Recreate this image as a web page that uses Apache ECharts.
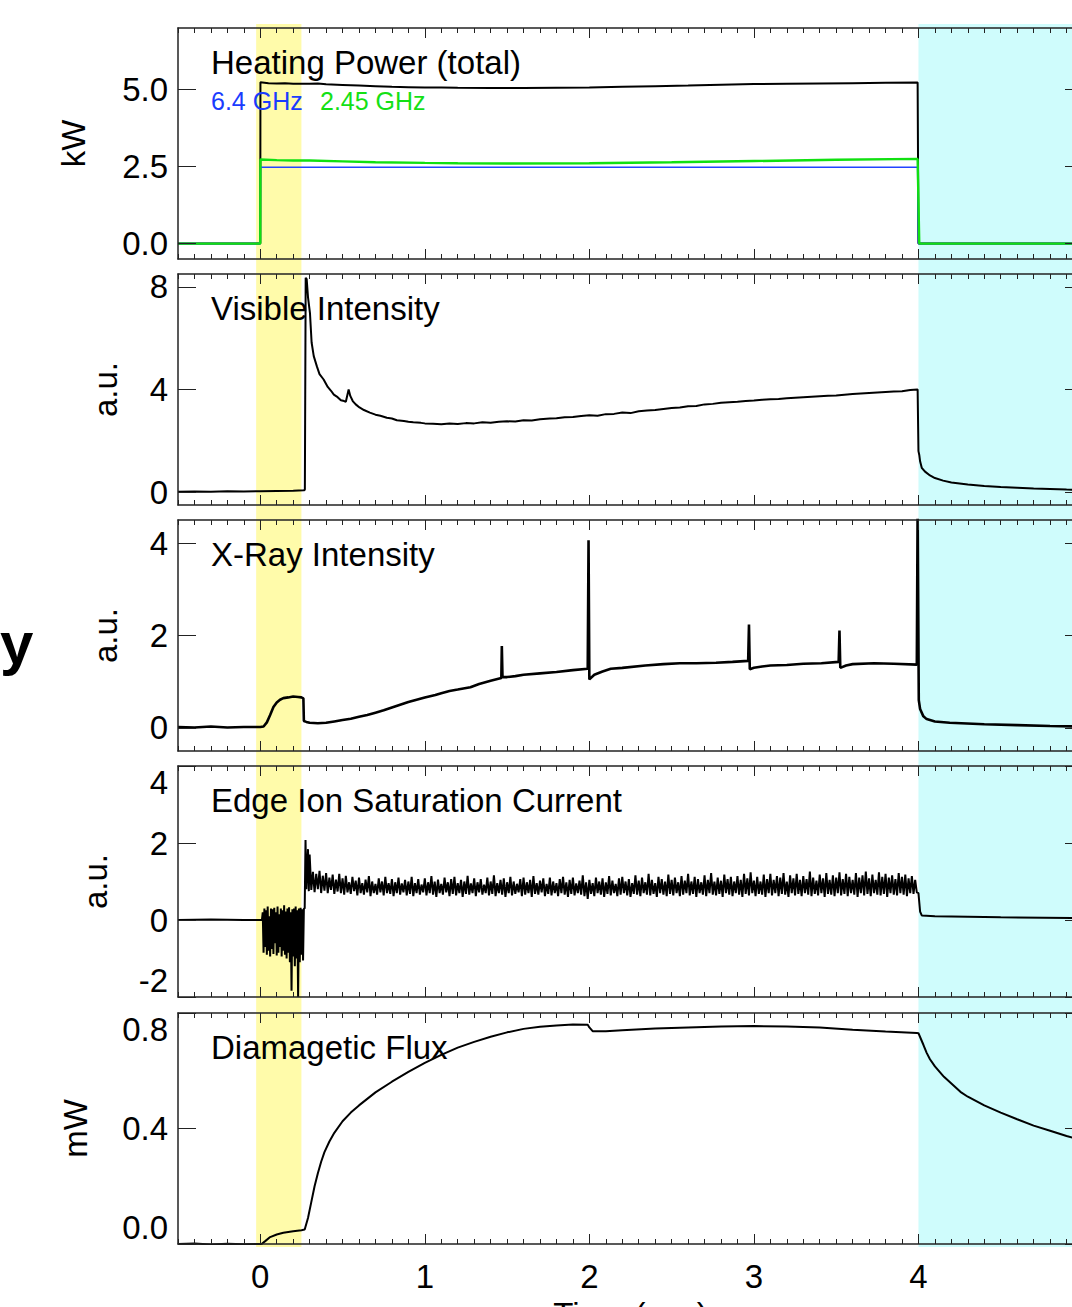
<!DOCTYPE html>
<html>
<head>
<meta charset="utf-8">
<script src="https://cdn.jsdelivr.net/npm/echarts@6/dist/echarts.min.js"></script>
<style>
html,body{margin:0;padding:0;background:#fff;overflow:hidden}
#c{width:1072px;height:1307px}
</style>
</head>
<body>
<div id="c"></div>
<script>
// ---------------- DATA ----------------
const panelTitles = ['Heating Power (total)', 'Visible Intensity', 'X-Ray Intensity', 'Edge Ion Saturation Current', 'Diamagetic Flux'];
const yNames = ['kW', 'a.u.', 'a.u.', 'a.u.', 'mW'];
const yMin = [-0.5, -0.5, -0.5, -2, 0];
const yMax = [7, 8.5, 4.5, 4, 0.8];
const yTicks = [[0, 2.5, 5], [0, 4, 8], [0, 2, 4], [-2, 0, 2, 4], [0, 0.4, 0.8]];
const yDecimals = [1, 0, 0, 0, 1];
const xMin = -0.5, xMax = 5;
const xTickLabels = [0, 1, 2, 3, 4];
const xMajorTicks = [0, 1, 2, 3, 4, 5];
const xName = 'Time (sec)';
const legend64 = '6.4 GHz';
const legend245 = '2.45 GHz';
const sideLetter = 'y';
const heatBand = [-0.025, 0.25];
const afterBand = [4.0, 5.0];

// Panel 1: heating power (kW)
const powerTotal = [[-0.5,0],[0,0],[0.001,5.24],[0.05,5.21],[0.1,5.2],[0.15,5.21],[0.2,5.19],[0.3,5.19],[0.35,5.2],[0.4,5.17],[0.5,5.15],[0.6,5.13],[0.7,5.11],[0.8,5.09],[0.9,5.08],[1.0,5.07],[1.1,5.07],[1.2,5.06],[1.4,5.05],[1.6,5.05],[1.8,5.06],[2.0,5.07],[2.2,5.09],[2.4,5.11],[2.6,5.13],[2.8,5.16],[3.0,5.18],[3.2,5.19],[3.4,5.2],[3.6,5.21],[3.8,5.22],[3.995,5.23],[4.0,0],[5.0,0]];
const power64 = [[-0.5,0],[0,0],[0.001,2.48],[2.0,2.48],[3.995,2.48],[4.0,0],[5.0,0]];
const power245 = [[-0.5,0],[0,0],[0.001,2.73],[0.1,2.71],[0.2,2.7],[0.3,2.7],[0.5,2.67],[0.7,2.64],[1.0,2.62],[1.2,2.61],[1.5,2.6],[2.0,2.61],[2.5,2.64],[3.0,2.68],[3.5,2.72],[3.995,2.75],[4.005,0],[5.0,0]];

// Panel 2: visible intensity (a.u.)
const visible = [[-0.5,0.02],[-0.4,0.03],[-0.3,0.02],[-0.2,0.04],[-0.1,0.03],[0,0.04],[0.1,0.05],[0.2,0.06],[0.265,0.07],[0.271,0.1],[0.276,8.35],[0.282,8.3],[0.29,7.6],[0.302,6.98],[0.312,5.83],[0.325,5.3],[0.344,4.9],[0.36,4.6],[0.385,4.39],[0.41,4.1],[0.43,3.95],[0.447,3.8],[0.47,3.7],[0.49,3.58],[0.51,3.55],[0.52,3.52],[0.537,4.0],[0.547,3.75],[0.562,3.55],[0.58,3.42],[0.603,3.3],[0.63,3.2],[0.666,3.1],[0.7,3.02],[0.73,2.98],[0.769,2.9],[0.8,2.87],[0.83,2.8],[0.873,2.77],[0.9,2.74],[0.93,2.72],[0.976,2.7],[1.0,2.68],[1.05,2.67],[1.1,2.65],[1.15,2.68],[1.2,2.66],[1.25,2.69],[1.3,2.68],[1.35,2.72],[1.4,2.7],[1.45,2.74],[1.5,2.76],[1.55,2.75],[1.6,2.8],[1.65,2.79],[1.7,2.84],[1.76,2.87],[1.8,2.88],[1.85,2.92],[1.9,2.93],[1.95,2.97],[2.0,3.0],[2.05,2.98],[2.1,3.04],[2.15,3.05],[2.2,3.1],[2.25,3.08],[2.3,3.15],[2.35,3.18],[2.4,3.2],[2.45,3.24],[2.5,3.28],[2.55,3.3],[2.6,3.35],[2.65,3.36],[2.7,3.42],[2.75,3.44],[2.8,3.48],[2.85,3.5],[2.9,3.52],[2.95,3.55],[3.0,3.57],[3.05,3.6],[3.1,3.62],[3.15,3.63],[3.2,3.66],[3.25,3.68],[3.3,3.7],[3.35,3.72],[3.4,3.74],[3.45,3.76],[3.5,3.77],[3.55,3.8],[3.6,3.82],[3.65,3.84],[3.7,3.86],[3.75,3.88],[3.8,3.9],[3.85,3.92],[3.9,3.93],[3.95,3.98],[3.995,4.0],[4.0,1.6],[4.005,1.45],[4.01,1.2],[4.02,0.95],[4.04,0.8],[4.07,0.65],[4.1,0.55],[4.15,0.45],[4.2,0.38],[4.3,0.3],[4.4,0.24],[4.5,0.2],[4.6,0.17],[4.7,0.14],[4.8,0.12],[4.9,0.1],[5.0,0.09]];

// Panel 3: X-ray intensity (a.u.)
const xray = [[-0.5,0.02],[-0.4,0.01],[-0.3,0.03],[-0.2,0.01],[-0.1,0.02],[0.0,0.02],[0.02,0.03],[0.04,0.12],[0.06,0.28],[0.08,0.45],[0.1,0.55],[0.12,0.61],[0.14,0.645],[0.17,0.66],[0.2,0.68],[0.23,0.67],[0.25,0.66],[0.262,0.64],[0.265,0.15],[0.28,0.13],[0.3,0.11],[0.35,0.1],[0.4,0.11],[0.45,0.14],[0.5,0.17],[0.55,0.2],[0.6,0.24],[0.65,0.28],[0.7,0.33],[0.75,0.38],[0.8,0.44],[0.85,0.5],[0.9,0.56],[0.95,0.61],[1.0,0.66],[1.064,0.71],[1.1,0.75],[1.15,0.8],[1.2,0.83],[1.277,0.88],[1.33,0.95],[1.4,1.02],[1.465,1.08],[1.468,1.77],[1.472,1.1],[1.5,1.1],[1.55,1.12],[1.6,1.15],[1.7,1.18],[1.8,1.21],[1.9,1.25],[1.99,1.28],[1.995,4.06],[2.0,1.05],[2.03,1.15],[2.08,1.22],[2.13,1.28],[2.2,1.3],[2.34,1.35],[2.45,1.38],[2.55,1.4],[2.65,1.4],[2.77,1.41],[2.87,1.43],[2.965,1.45],[2.97,2.24],[2.975,1.27],[3.0,1.3],[3.05,1.33],[3.1,1.35],[3.2,1.36],[3.3,1.39],[3.41,1.4],[3.515,1.43],[3.52,2.11],[3.525,1.3],[3.56,1.35],[3.6,1.38],[3.73,1.4],[3.85,1.39],[3.99,1.37],[3.995,4.8],[4.002,0.6],[4.01,0.41],[4.03,0.25],[4.05,0.19],[4.1,0.14],[4.19,0.11],[4.4,0.08],[4.6,0.06],[4.8,0.04],[5.0,0.03]];

// Panel 4: edge ion saturation current (a.u.)
const edgeLead = [[-0.5,0],[-0.3,0.01],[-0.1,0],[0.0,0.0],[0.01,0.0]];
const edgeNoiseStart = 0.015, edgeNoiseStep = 0.005;
const edgeNoise = [0.2,-0.85,0.3,-0.7,0.25,-0.9,0.35,-0.8,0.1,-0.95,0.3,-0.75,0.28,-0.88,0.32,-0.6,0.2,-0.92,0.35,-0.85,0.15,-0.7,0.3,-0.95,0.25,-0.8,0.38,-0.9,0.22,-1.0,0.3,-0.85,0.33,-1.1,0.2,-1.84,0.28,-0.95,0.3,-1.2,0.35,-1.0,0.25,-2.0,0.3,-1.1,0.32,-0.9,0.28,-1.05,0.3];
const edgeJump = [[0.27,0.3],[0.275,2.08],[0.28,0.8],[0.29,1.84],[0.295,0.75]];
const edgeBandStart = 0.30, edgeBandStep = 0.01;
const edgeBand = [
1.7,0.78,1.25,0.72,1.2,0.8,1.28,0.7,1.15,0.76,
1.22,0.7,1.1,0.78,1.18,0.68,1.05,0.74,1.2,0.7,
1.08,0.66,1.15,0.72,0.98,0.68,1.12,0.75,1.02,0.64,
1.1,0.7,0.96,0.66,1.05,0.72,1.14,0.62,1.0,0.7,
0.94,0.66,1.08,0.72,1.0,0.64,1.12,0.7,0.96,0.68,
1.06,0.62,0.98,0.7,1.1,0.66,0.95,0.72,1.04,0.64,
1.0,0.68,1.12,0.62,0.96,0.7,1.06,0.66,0.92,0.72,
1.08,0.64,0.98,0.7,1.14,0.66,1.0,0.6,1.05,0.7,
0.94,0.66,1.1,0.72,0.98,0.62,1.06,0.68,1.12,0.64,
0.96,0.7,1.04,0.6,1.0,0.68,1.15,0.66,0.95,0.7,
1.08,0.62,0.98,0.72,1.06,0.66,0.92,0.7,1.1,0.64,
1.0,0.68,1.16,0.62,0.96,0.7,1.04,0.66,1.08,0.6,
0.98,0.7,1.12,0.64,1.0,0.68,0.94,0.72,1.06,0.62,
1.1,0.66,0.98,0.7,1.04,0.6,1.14,0.68,0.96,0.66,
1.02,0.72,1.08,0.62,0.94,0.68,1.1,0.64,1.0,0.7,
0.96,0.62,1.06,0.7,1.12,0.66,0.98,0.6,1.04,0.68,
1.1,0.64,0.95,0.7,1.02,0.66,1.16,0.62,0.98,0.55,
1.04,0.68,0.96,0.62,1.1,0.7,1.0,0.66,1.08,0.6,
0.98,0.68,1.14,0.64,1.02,0.7,0.94,0.62,1.08,0.66,
1.12,0.7,1.0,0.64,1.06,0.6,0.96,0.68,1.16,0.66,
1.02,0.62,1.1,0.7,0.98,0.66,1.2,0.64,1.04,0.68,
0.96,0.6,1.12,0.7,1.06,0.66,1.0,0.62,1.18,0.68,
1.04,0.64,1.1,0.7,0.98,0.62,1.14,0.66,1.02,0.7,
1.2,0.64,1.0,0.68,1.12,0.6,1.06,0.7,0.98,0.66,
1.16,0.62,1.04,0.7,1.22,0.66,1.0,0.64,1.1,0.68,
1.02,0.6,1.18,0.7,1.06,0.66,1.12,0.62,1.0,0.7,
1.14,0.66,1.04,0.6,1.2,0.68,1.08,0.64,1.24,0.7,
1.02,0.62,1.12,0.68,1.0,0.66,1.18,0.6,1.06,0.7,
1.2,0.64,1.04,0.7,1.14,0.62,1.1,0.68,1.22,0.66,
1.0,0.6,1.16,0.7,1.08,0.64,1.2,0.68,1.04,0.62,
1.14,0.7,1.06,0.66,1.26,0.62,1.1,0.68,1.02,0.64,
1.18,0.7,1.08,0.6,1.22,0.68,1.04,0.66,1.16,0.62,
1.1,0.7,1.24,0.64,1.06,0.68,1.2,0.62,1.12,0.7,
1.04,0.66,1.22,0.6,1.1,0.7,1.16,0.64,1.26,0.68,
1.08,0.62,1.18,0.7,1.04,0.66,1.24,0.64,1.12,0.68,
1.2,0.6,1.1,0.7,1.16,0.66,1.06,0.64,1.22,0.7,
1.12,0.66,1.18,0.62,1.08,0.7,1.14,0.68,1.04,0.72];
const edgeTail = [[4.0,0.7],[4.01,0.22],[4.02,0.12],[4.1,0.1],[4.5,0.07],[5.0,0.05]];

// Panel 5: diamagnetic flux (mW)
const flux = [[-0.5,0.0],[-0.4,0.002],[-0.3,-0.002],[-0.2,0.001],[-0.1,-0.001],[0.0,0.0],[0.01,0.001],[0.03,0.01],[0.06,0.024],[0.1,0.033],[0.14,0.039],[0.2,0.044],[0.25,0.048],[0.27,0.05],[0.29,0.09],[0.31,0.145],[0.33,0.2],[0.35,0.245],[0.37,0.285],[0.39,0.318],[0.42,0.355],[0.45,0.385],[0.5,0.425],[0.55,0.455],[0.6,0.48],[0.7,0.525],[0.8,0.562],[0.9,0.596],[1.0,0.627],[1.1,0.655],[1.2,0.68],[1.3,0.7],[1.4,0.718],[1.5,0.733],[1.6,0.745],[1.7,0.752],[1.8,0.757],[1.9,0.76],[1.99,0.759],[2.0,0.75],[2.02,0.737],[2.1,0.737],[2.2,0.74],[2.4,0.746],[2.6,0.75],[2.8,0.753],[3.0,0.755],[3.2,0.753],[3.4,0.75],[3.6,0.742],[3.8,0.736],[3.99,0.731],[4.0,0.73],[4.015,0.71],[4.03,0.69],[4.05,0.662],[4.07,0.64],[4.1,0.615],[4.155,0.579],[4.2,0.556],[4.255,0.527],[4.3,0.51],[4.4,0.48],[4.5,0.455],[4.6,0.432],[4.7,0.41],[4.8,0.392],[4.9,0.374],[5.0,0.358]];

// ---------------- LAYOUT / STYLE ----------------
const FONT = '"Liberation Sans", Arial, Helvetica, sans-serif';
const frameColor = '#222';
const panelTops = [28, 274, 520, 766, 1013];
const panelH = 231;
const gridLeft = 178, gridWidth = 905;
const yNameGap = [88, 56, 56, 66, 86];
const FS = 33;

function seq(t0, dt, vals) { return vals.map((v, i) => [+(t0 + i * dt).toFixed(4), v]); }
const edgeData = edgeLead.concat(seq(edgeNoiseStart, edgeNoiseStep, edgeNoise), edgeJump, seq(edgeBandStart, edgeBandStep, edgeBand), edgeTail);

const grids = panelTops.map(t => ({ left: gridLeft, width: gridWidth, top: t, height: panelH, containLabel: false, outerBoundsMode: 'none' }));
grids.push({ left: gridLeft, width: gridWidth, top: 24, height: 1223, containLabel: false, outerBoundsMode: 'none' });

const xAxes = [];
panelTops.forEach((t, i) => {
  const last = i === panelTops.length - 1;
  ['bottom', 'top'].forEach(pos => {
    const withLabel = last && pos === 'bottom';
    xAxes.push({
      type: 'value', gridIndex: i, position: pos, min: xMin, max: xMax, interval: 0.1, z: 5,
      axisLine: { show: true, onZero: false, lineStyle: { color: frameColor, width: 1.5 } },
      axisTick: { show: true, inside: true, length: 5, lineStyle: { color: frameColor, width: 1 } },
      axisLabel: withLabel ? { show: true, customValues: xTickLabels, formatter: v => String(v), fontSize: FS, color: '#000', margin: 16, fontFamily: FONT } : { show: false },
      splitLine: { show: false },
      name: withLabel ? xName : '', nameLocation: 'middle', nameGap: 54,
      nameTextStyle: { fontSize: FS, color: '#000', fontFamily: FONT }
    });
    xAxes.push({
      type: 'value', gridIndex: i, position: pos, min: xMin, max: xMax, z: 5,
      axisLine: { show: false, onZero: false },
      axisTick: { show: true, inside: true, length: 10, customValues: xMajorTicks, lineStyle: { color: frameColor, width: 1 } },
      axisLabel: { show: false }, splitLine: { show: false }
    });
  });
});
xAxes.push({ type: 'value', gridIndex: 5, min: xMin, max: xMax, show: false });

const yAxes = [];
panelTops.forEach((t, i) => {
  const dec = yDecimals[i];
  const ext = (i === 3 || i === 4);
  yAxes.push({
    type: 'value', gridIndex: i, position: 'left', min: yMin[i], max: yMax[i], z: 5,
    axisLine: { show: true, onZero: false, lineStyle: { color: frameColor, width: 1.5 } },
    axisTick: { show: true, inside: true, length: 18, customValues: yTicks[i], lineStyle: { color: frameColor, width: 1 } },
    axisLabel: Object.assign({ show: true, customValues: yTicks[i], formatter: v => Number(v).toFixed(dec), fontSize: FS, color: '#000', margin: 10, fontFamily: FONT },
      ext ? { verticalAlignMinLabel: 'bottom', verticalAlignMaxLabel: 'top' } : {}),
    splitLine: { show: false },
    name: yNames[i], nameLocation: 'middle', nameGap: yNameGap[i], nameRotate: 90,
    nameTextStyle: { fontSize: FS, color: '#000', fontFamily: FONT }
  });
  yAxes.push({
    type: 'value', gridIndex: i, position: 'right', min: yMin[i], max: yMax[i], z: 5,
    axisLine: { show: true, onZero: false, lineStyle: { color: frameColor, width: 1.5 } },
    axisTick: { show: true, inside: true, length: 18, customValues: yTicks[i], lineStyle: { color: frameColor, width: 1 } },
    axisLabel: { show: false }, splitLine: { show: false }
  });
});
yAxes.push({ type: 'value', gridIndex: 5, min: 0, max: 1, show: false });

function line(data, panel, color, width, z) {
  return { type: 'line', data: data, xAxisIndex: panel * 4, yAxisIndex: panel * 2, showSymbol: false, symbol: 'none',
    clip: true, z: z || 3, silent: true, lineStyle: { color: color, width: width }, animation: false };
}

const titles = panelTitles.map((t, i) => ({ text: t, left: 211, top: panelTops[i] + 18, padding: 0,
  textStyle: { fontSize: FS, fontWeight: 'normal', color: '#000', fontFamily: FONT } }));
titles.push({ text: legend64, left: 211, top: 88, padding: 0, textStyle: { fontSize: 25, fontWeight: 'normal', color: '#1a3cff', fontFamily: FONT } });
titles.push({ text: legend245, left: 320, top: 88, padding: 0, textStyle: { fontSize: 25, fontWeight: 'normal', color: '#14e014', fontFamily: FONT } });

const option = {
  animation: false,
  backgroundColor: '#fff',
  title: titles,
  grid: grids,
  xAxis: xAxes,
  yAxis: yAxes,
  graphic: [{ type: 'text', x: 0, y: 643, z: 10,
    style: { text: sideLetter, fontSize: 60, fontWeight: 'bold', fontFamily: FONT, fill: '#000', verticalAlign: 'middle' } }],
  series: [
    { type: 'line', data: [], xAxisIndex: 20, yAxisIndex: 10, z: 0, silent: true,
      markArea: { silent: true, itemStyle: { color: '#fffbaa' },
        data: [[{ xAxis: heatBand[0] }, { xAxis: heatBand[1] }],
               [{ xAxis: afterBand[0], itemStyle: { color: '#cffcfc' } }, { xAxis: afterBand[1] }]] } },
    line(powerTotal, 0, '#000', 2),
    line(power64, 0, '#2244ff', 1.6),
    line(power245, 0, '#11e011', 2.4),
    line(visible, 1, '#000', 2),
    line(xray, 2, '#000', 2.6),
    line(edgeData, 3, '#000', 2),
    line(flux, 4, '#000', 2)
  ]
};

const chart = echarts.init(document.getElementById('c'), null, { renderer: 'svg', width: 1072, height: 1307 });
chart.setOption(option);
</script>
</body>
</html>
